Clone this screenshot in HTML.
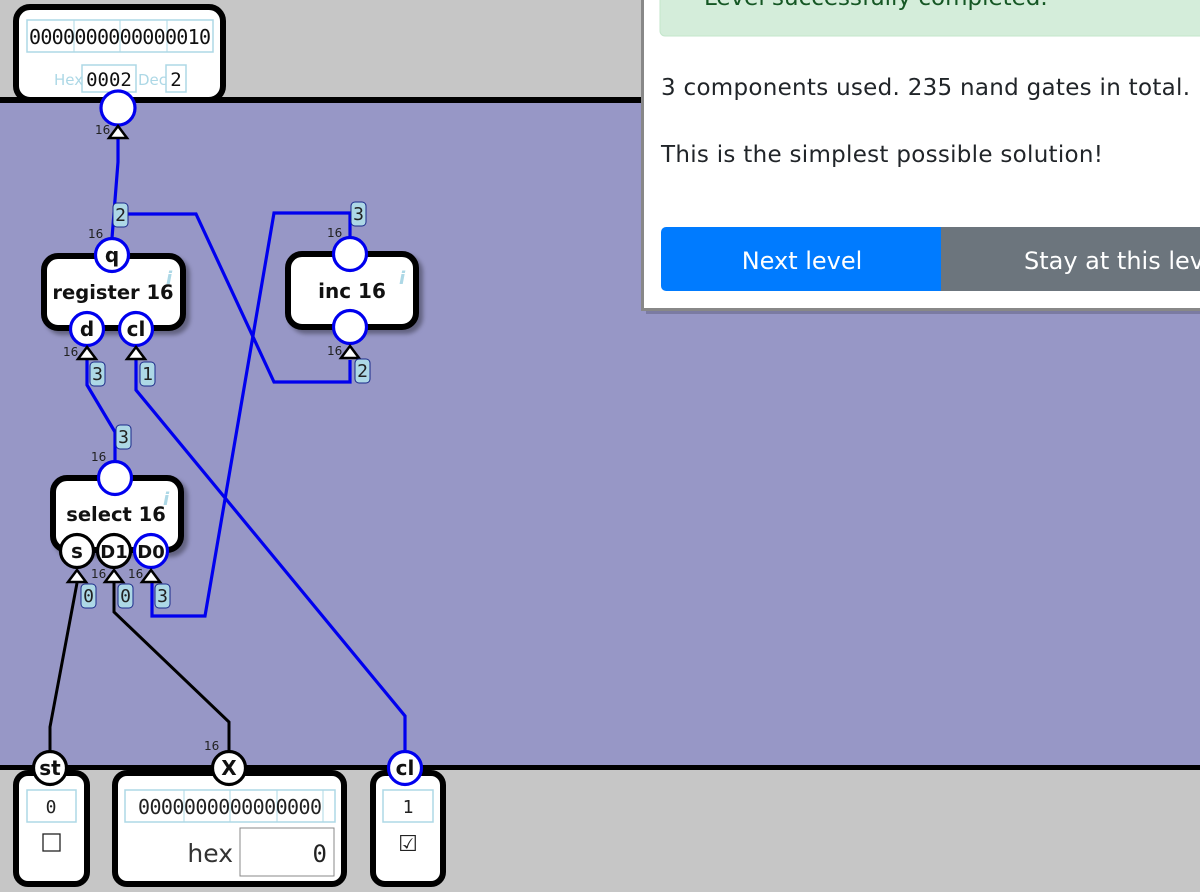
<!DOCTYPE html>
<html><head><meta charset="utf-8"><style>
html,body{margin:0;padding:0;width:1200px;height:892px;overflow:hidden;background:#c6c6c6;}
svg{display:block}
.t{font-family:"DejaVu Sans","Liberation Sans",sans-serif;}
.m{font-family:"DejaVu Sans Mono","Liberation Mono",monospace;}
</style></head><body>
<svg width="1200" height="892" viewBox="0 0 1200 892" xmlns="http://www.w3.org/2000/svg">
<defs>
<filter id="sh" x="-10%" y="-10%" width="130%" height="130%"><feDropShadow dx="4" dy="4" stdDeviation="2" flood-color="#000" flood-opacity="0.35"/></filter>
</defs>
<rect x="0" y="0" width="1200" height="892" fill="#c6c6c6"/>
<rect x="0" y="100" width="1200" height="668" fill="#9797c6"/>
<rect x="0" y="97" width="1200" height="6" fill="#000"/>
<rect x="0" y="765" width="1200" height="5" fill="#000"/>

<rect x="16" y="7" width="207" height="93" rx="14" fill="#fff" stroke="#000" stroke-width="6"/>
<rect x="27" y="20" width="186" height="32" fill="#fff" stroke="#add8e6" stroke-width="1.5"/>
<g stroke="#add8e6" stroke-width="1"><line x1="74" y1="20" x2="74" y2="52"/><line x1="120" y1="20" x2="120" y2="52"/><line x1="167" y1="20" x2="167" y2="52"/></g>
<text x="120" y="44" class="m" font-size="20" text-anchor="middle" fill="#111" textLength="182">0000000000000010</text>
<text x="54" y="85" class="t" font-size="15" fill="#add8e6">Hex</text>
<rect x="82" y="65" width="54" height="27" fill="#fff" stroke="#add8e6" stroke-width="1.5"/>
<text x="109" y="86" class="m" font-size="19" text-anchor="middle" fill="#111">0002</text>
<text x="138" y="85" class="t" font-size="15" fill="#add8e6">Dec</text>
<rect x="166" y="65" width="20" height="27" fill="#fff" stroke="#add8e6" stroke-width="1.5"/>
<text x="176" y="86" class="m" font-size="19" text-anchor="middle" fill="#111">2</text>

<g fill="none" stroke="#0000ee" stroke-width="3.2" stroke-linejoin="miter">
<polyline points="118,138 118,162 112,238"/>
<polyline points="126,214 196,214 274,382 350,382 350,360"/>
<polyline points="350,238 350,213 274,213 205,616 152,616 152,582"/>
<polyline points="87,360 87,385 115,432 115,462"/>
<polyline points="136,360 136,390 405,716 405,752"/>
</g>
<g fill="none" stroke="#000" stroke-width="3">
<polyline points="50,752 50,727 77,583"/>
<polyline points="229,752 229,722 114,612 114,583"/>
</g>

<rect x="44" y="256" width="139" height="72" rx="14" fill="#fff" stroke="#000" stroke-width="6" filter="url(#sh)"/>
<text x="113" y="299" class="t" font-size="19.5" font-weight="bold" text-anchor="middle" fill="#111">register 16</text>
<text x="166" y="284" class="t" font-size="18" font-style="italic" font-weight="bold" fill="#add8e6">i</text>
<rect x="288" y="254" width="128" height="73" rx="14" fill="#fff" stroke="#000" stroke-width="6" filter="url(#sh)"/>
<text x="352" y="298" class="t" font-size="20" font-weight="bold" text-anchor="middle" fill="#111">inc 16</text>
<text x="399" y="284" class="t" font-size="18" font-style="italic" font-weight="bold" fill="#add8e6">i</text>
<rect x="53" y="478" width="128" height="72" rx="14" fill="#fff" stroke="#000" stroke-width="6" filter="url(#sh)"/>
<text x="116" y="521" class="t" font-size="19.5" font-weight="bold" text-anchor="middle" fill="#111">select 16</text>
<text x="163" y="505" class="t" font-size="18" font-style="italic" font-weight="bold" fill="#add8e6">i</text>

<g stroke-width="3.2" fill="#fff">
<circle cx="118" cy="108" r="17" stroke="#0000ee"/>
<circle cx="112" cy="255" r="16.5" stroke="#0000ee"/>
<circle cx="87" cy="329" r="16.5" stroke="#0000ee"/>
<circle cx="136" cy="329" r="16.5" stroke="#0000ee"/>
<circle cx="350" cy="254" r="16.5" stroke="#0000ee"/>
<circle cx="350" cy="327" r="16.5" stroke="#0000ee"/>
<circle cx="115" cy="478" r="16.5" stroke="#0000ee"/>
<circle cx="77" cy="551" r="16.5" stroke="#000"/>
<circle cx="114" cy="551" r="16.5" stroke="#000"/>
<circle cx="151" cy="551" r="16.5" stroke="#0000ee"/>
</g>
<g class="t" font-size="20" font-weight="bold" text-anchor="middle" fill="#111">
<text x="112" y="262">q</text>
<text x="87" y="336">d</text>
<text x="136" y="336">cl</text>
<text x="77" y="558">s</text>
<text x="114" y="558" font-size="18">D1</text>
<text x="151" y="558" font-size="18">D0</text>
</g>

<g fill="#fff" stroke="#000" stroke-width="2.5">
<polygon points="118,126 109,138 127,138"/>
<polygon points="87,347 78,359 96,359"/>
<polygon points="136,347 127,359 145,359"/>
<polygon points="350,346 341,358 359,358"/>
<polygon points="77,570 68,582 86,582"/>
<polygon points="114,570 105,582 123,582"/>
<polygon points="151,570 142,582 160,582"/>
</g>
<g class="t" font-size="12" fill="#222">
<text x="95" y="134">16</text>
<text x="88" y="238">16</text>
<text x="63" y="356">16</text>
<text x="327" y="237">16</text>
<text x="327" y="355">16</text>
<text x="91" y="461">16</text>
<text x="91" y="578">16</text>
<text x="128" y="578">16</text>
<text x="204" y="750">16</text>
</g>

<g class="m" font-size="18" fill="#222">
<g><rect x="113" y="203" width="15" height="24" rx="4" fill="#add8e6" stroke="#1a2a8a"/><text x="120.5" y="221" text-anchor="middle">2</text></g>
<g><rect x="351" y="202" width="15" height="24" rx="4" fill="#add8e6" stroke="#1a2a8a"/><text x="358.5" y="220" text-anchor="middle">3</text></g>
<g><rect x="90" y="362" width="15" height="24" rx="4" fill="#add8e6" stroke="#1a2a8a"/><text x="97.5" y="380" text-anchor="middle">3</text></g>
<g><rect x="140" y="362" width="15" height="24" rx="4" fill="#add8e6" stroke="#1a2a8a"/><text x="147.5" y="380" text-anchor="middle">1</text></g>
<g><rect x="355" y="359" width="15" height="24" rx="4" fill="#add8e6" stroke="#1a2a8a"/><text x="362.5" y="377" text-anchor="middle">2</text></g>
<g><rect x="116" y="425" width="15" height="24" rx="4" fill="#add8e6" stroke="#1a2a8a"/><text x="123.5" y="443" text-anchor="middle">3</text></g>
<g><rect x="81" y="584" width="15" height="24" rx="4" fill="#add8e6" stroke="#1a2a8a"/><text x="88.5" y="602" text-anchor="middle">0</text></g>
<g><rect x="118" y="584" width="15" height="24" rx="4" fill="#add8e6" stroke="#1a2a8a"/><text x="125.5" y="602" text-anchor="middle">0</text></g>
<g><rect x="155" y="584" width="15" height="24" rx="4" fill="#add8e6" stroke="#1a2a8a"/><text x="162.5" y="602" text-anchor="middle">3</text></g>
</g>

<rect x="16" y="773" width="71" height="111" rx="12" fill="#fff" stroke="#000" stroke-width="6"/>
<rect x="27" y="790" width="49" height="32" fill="#fff" stroke="#add8e6" stroke-width="1.5"/>
<text x="51" y="813" class="m" font-size="18" text-anchor="middle" fill="#222">0</text>
<rect x="43" y="834" width="17" height="17" fill="#fff" stroke="#222" stroke-width="1.3"/>

<rect x="115" y="773" width="229" height="111" rx="12" fill="#fff" stroke="#000" stroke-width="6"/>
<rect x="125" y="790" width="210" height="32" fill="#fff" stroke="#add8e6" stroke-width="1.5"/>
<g stroke="#add8e6" stroke-width="1"><line x1="184" y1="790" x2="184" y2="822"/><line x1="230" y1="790" x2="230" y2="822"/><line x1="277" y1="790" x2="277" y2="822"/><line x1="323" y1="790" x2="323" y2="822"/></g>
<text x="230" y="814" class="m" font-size="20" text-anchor="middle" fill="#222" textLength="184">0000000000000000</text>
<text x="233" y="862" class="t" font-size="25" text-anchor="end" fill="#333">hex</text>
<rect x="240" y="828" width="94" height="48" fill="#fff" stroke="#888" stroke-width="1"/>
<text x="327" y="862" class="m" font-size="24" text-anchor="end" fill="#222">0</text>

<rect x="373" y="773" width="70" height="111" rx="12" fill="#fff" stroke="#000" stroke-width="6"/>
<rect x="383" y="790" width="50" height="32" fill="#fff" stroke="#add8e6" stroke-width="1.5"/>
<text x="408" y="813" class="m" font-size="18" text-anchor="middle" fill="#222">1</text>
<text x="408" y="851" class="t" font-size="22" text-anchor="middle" fill="#222">☑</text>

<g stroke-width="3.2" fill="#fff">
<circle cx="50" cy="768" r="16.5" stroke="#000"/>
<circle cx="229" cy="768" r="16.5" stroke="#000"/>
<circle cx="405" cy="768" r="16.5" stroke="#0000ee"/>
</g>
<g class="t" font-size="20" font-weight="bold" text-anchor="middle" fill="#111">
<text x="50" y="775">st</text>
<text x="229" y="775">X</text>
<text x="405" y="775">cl</text>
</g>

<rect x="646" y="-10" width="560" height="324" fill="#000" opacity="0.18"/>
<rect x="641" y="-10" width="570" height="321" fill="#888"/>
<rect x="644" y="-10" width="570" height="318" fill="#fff"/>
<rect x="660" y="-20" width="560" height="56" rx="5" fill="#d4edda" stroke="#c3e6cb"/>
<text x="704" y="5" class="t" font-size="23" fill="#155724">Level successfully completed.</text>
<text x="661" y="95" class="t" font-size="23" fill="#212529" textLength="529">3 components used. 235 nand gates in total.</text>
<text x="661" y="162" class="t" font-size="23" fill="#212529" textLength="442">This is the simplest possible solution!</text>
<rect x="661" y="227" width="290" height="64" rx="5" fill="#007bff"/>
<rect x="941" y="227" width="270" height="64" fill="#6c757d"/>
<text x="802" y="269" class="t" font-size="24" text-anchor="middle" fill="#fff">Next level</text>
<text x="1024" y="269" class="t" font-size="24" fill="#fff">Stay at this level</text>
</svg>
</body></html>
